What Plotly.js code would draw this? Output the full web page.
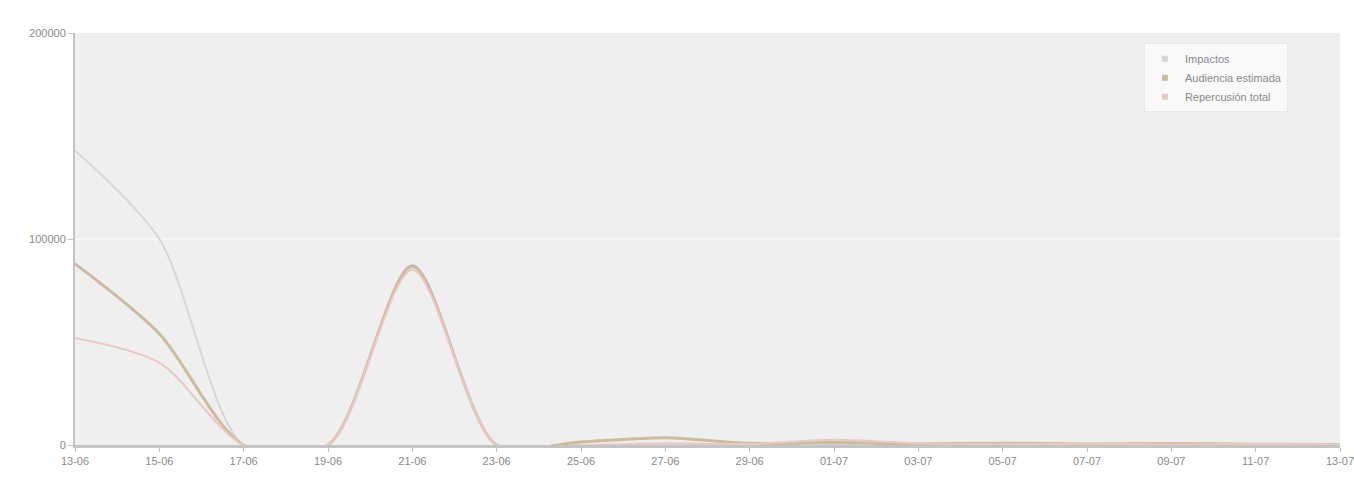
<!DOCTYPE html>
<html>
<head>
<meta charset="utf-8">
<script src="https://cdn.plot.ly/plotly-3.0.1.min.js"></script>
<style>html,body{margin:0;padding:0;background:#fff;}#chart{width:1354px;height:484px;}</style>
</head>
<body>
<div id="chart"></div>
<script>
const categories = ["13-06","15-06","17-06","19-06","21-06","23-06","25-06","27-06","29-06","01-07","03-07","05-07","07-07","09-07","11-07","13-07"];
const seriesNames = ["Impactos","Audiencia estimada","Repercusión total"];
const impactos = [143000, 100000, 0, 0, 86000, 0, 0, 0, 0, 0, 0, 0, 0, 0, 0, 0];
const audiencia = [88000, 54000, 0, 0, 87000, 0, 1500, 3500, 800, 1200, 600, 900, 500, 700, 400, 300];
const repercusion = [52000, 40000, 0, 0, 85000, 0, 0, 800, 500, 2500, 800, 400, 600, 300, 500, 200];
const yTickVals = [0, 100000, 200000];
const yTickText = ["0", "100000", "200000"];

const colors = ["#d6d6d2", "#cdbb9f", "#e8c9c4"];
const widths = [2, 3, 2];
const lineTraces = [impactos, audiencia, repercusion].map((vals, i) => ({
  type: "scatter",
  mode: "lines",
  name: seriesNames[i],
  x: categories,
  y: vals,
  line: {color: colors[i], width: widths[i], shape: "spline", smoothing: 0.8},
  showlegend: false
}));
const legendTraces = seriesNames.map((n, i) => ({
  type: "scatter",
  mode: "markers",
  name: n,
  x: [null],
  y: [null],
  marker: {color: colors[i], size: 6, symbol: "square"},
  showlegend: true
}));

const layout = {
  width: 1354, height: 484,
  margin: {l: 75, r: 14, t: 33, b: 39},
  paper_bgcolor: "#ffffff",
  plot_bgcolor: "#efefef",
  font: {family: "Arial, Liberation Sans, sans-serif", size: 11, color: "#8a8a8a"},
  xaxis: {
    type: "category",
    tickvals: categories,
    ticktext: categories,
    showgrid: false,
    showline: true, linecolor: "#c4c4c4", linewidth: 3,
    ticks: "outside", ticklen: 4, tickcolor: "#c4c4c4",
    range: [0, categories.length - 1],
    zeroline: false,
    tickfont: {size: 11, color: "#8a8a8a"}
  },
  yaxis: {
    range: [0, 200000],
    tickvals: yTickVals,
    ticktext: yTickText,
    showgrid: true, gridcolor: "#f6f6f6", gridwidth: 2,
    showline: true, linecolor: "#c4c4c4", linewidth: 2,
    ticks: "outside", ticklen: 5, tickcolor: "#c4c4c4",
    zeroline: false,
    tickfont: {size: 11, color: "#8a8a8a"}
  },
  legend: {
    x: 0.845, y: 0.975, xanchor: "left", yanchor: "top",
    bgcolor: "rgba(250,250,250,0.9)",
    bordercolor: "#e8e8e8", borderwidth: 1,
    font: {size: 11, color: "#8a8a8a"},
    itemwidth: 30, tracegroupgap: 0
  },
  showlegend: true
};

Plotly.newPlot("chart", lineTraces.concat(legendTraces), layout, {displayModeBar: false, staticPlot: true});
</script>
</body>
</html>
